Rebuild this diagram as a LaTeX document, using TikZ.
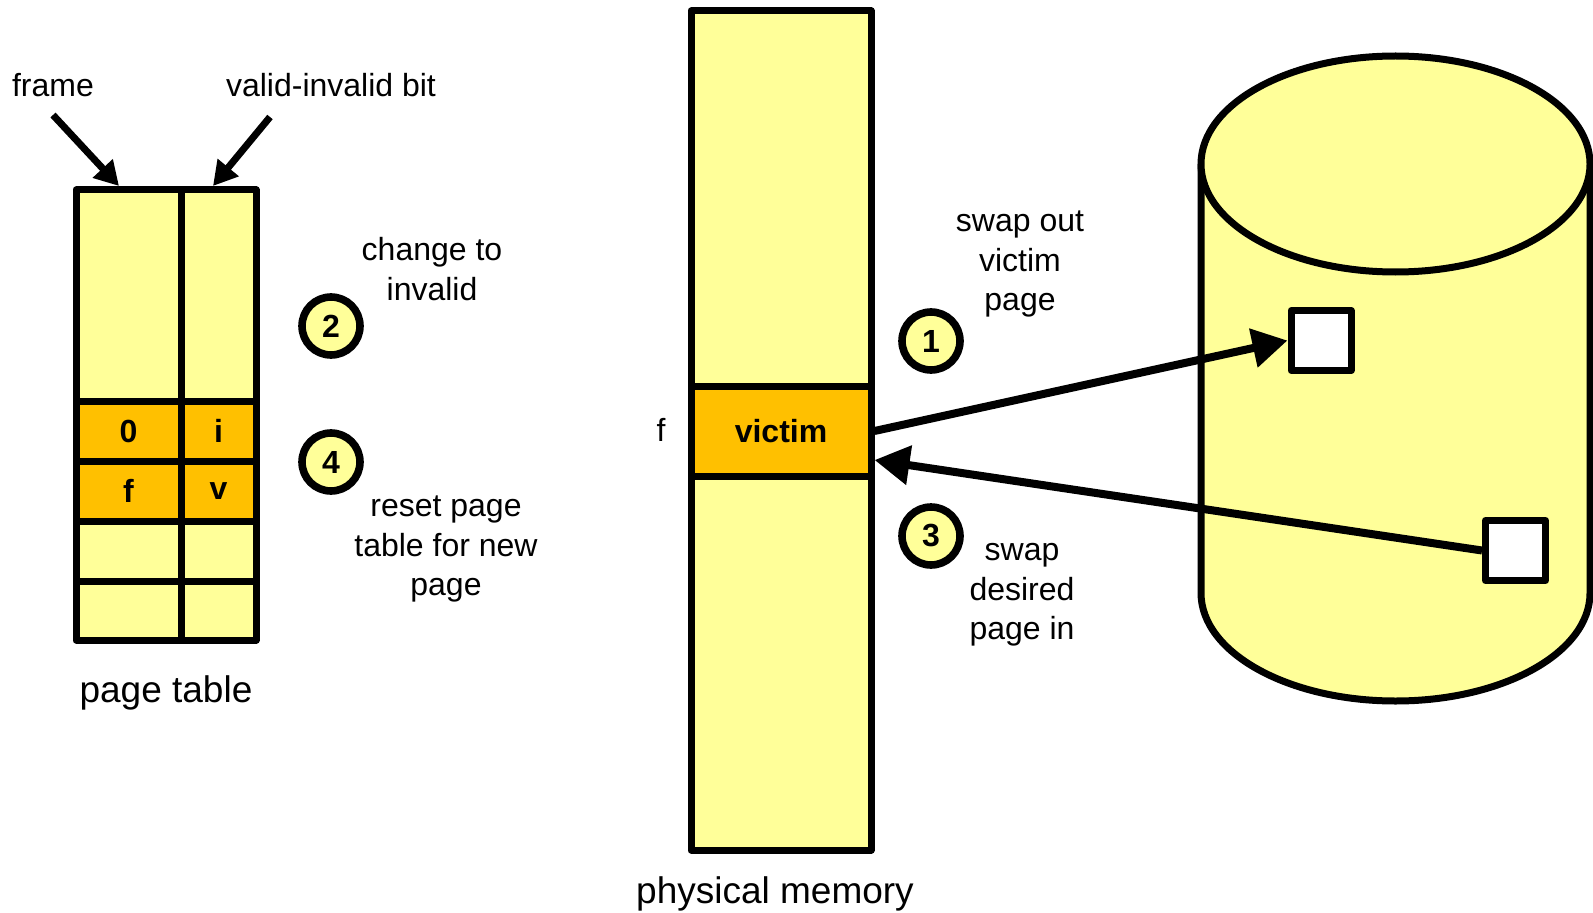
\documentclass[tikz,border=0pt]{standalone}
\usepackage{fontspec}
\setmainfont{Liberation Sans}
\usepackage{tikz}
\usetikzlibrary{arrows.meta,positioning}

\definecolor{paleyellow}{RGB}{255,255,153}
\definecolor{victimorange}{RGB}{255,192,0}

\newcommand{\lblfont}{\fontsize{16}{19.8}\selectfont}
\newcommand{\bigfont}{\fontsize{18.5}{22}\selectfont}

\tikzset{
	box/.style={draw, line width=3.5pt, line join=round},
	stepnum/.style={circle, draw, line width=3.8pt, fill=paleyellow, minimum size=29pt, inner sep=0pt, font=\lblfont\bfseries},
	cell/.style={font=\lblfont\bfseries},
	swaparrow/.style={line width=4pt, -{Triangle[length=17.5pt,width=19pt]}},
	bitarrow/.style={line width=3.5pt, -{Triangle[length=12pt,width=13pt]}}
}

\begin{document}
\begin{tikzpicture}[x=50pt, y=50pt, font=\lblfont]
	
	\useasboundingbox (0,0) rectangle (15.93,9.12);
	
	% page table
	\fill[paleyellow] (0.76,2.72) rectangle (2.56,7.22);
	\fill[victimorange] (0.76,3.91) rectangle (2.56,5.11);
	\foreach \y in {5.11,4.51,3.91,3.31}
		\draw[box] (0.76,\y) -- (2.56,\y);
	\draw[box] (1.81,2.72) -- (1.81,7.22);
	\draw[box] (0.76,2.72) rectangle (2.56,7.22);
	
	\node[cell] (oldframe) at (1.285,4.81) {0};
	\node[cell] (oldbit) at (2.185,4.81) {i};
	\node[cell] (newframe) at (1.285,4.21) {f};
	\node[cell] (newbit) at (2.185,4.21) {v};
	
	\node (frame) at (0.53,8.27) {frame};
	\node (vibit) at (3.31,8.27) {valid-invalid bit};
	\node[font=\bigfont] (ptlabel) at (1.66,2.19) {page table};
	
	\coordinate (frametail) at (0.53,7.97);
	\coordinate (frametip) at (1.19,7.26);
	\coordinate (bittail) at (2.70,7.95);
	\coordinate (bittip) at (2.13,7.26);
	\draw[bitarrow] (frametail) -- (frametip);
	\draw[bitarrow] (bittail) -- (bittip);
	
	\node[stepnum] (s2) at (3.31,5.86) {2};
	\node[stepnum] (s4) at (3.31,4.50) {4};
	\node[align=center] (invtxt) at (4.32,6.43) {change to\\invalid};
	\node[align=center] (resettxt) at (4.46,3.63) {reset page\\table for new\\page};
	
	% physical memory
	\draw[box, fill=paleyellow] (6.91,0.62) rectangle (8.71,9.01);
	\node[box, fill=victimorange, minimum width=90pt, minimum height=45pt, inner sep=0pt, font=\lblfont\bfseries] (victim) at (7.81,4.81) {victim};
	\node (fmark) at (6.61,4.82) {f};
	\node[font=\bigfont] (memlabel) at (7.75,0.18) {physical memory};
	
	% backing store
	\draw[box, fill=paleyellow] (12.01,7.48) -- (12.01,3.19) arc[start angle=180, end angle=360, x radius=1.945, y radius=1.08] -- (15.90,7.48);
	\draw[box, fill=paleyellow] (13.955,7.48) ellipse [x radius=1.945, y radius=1.08];
	
	\node[box, fill=white, minimum size=30pt, inner sep=0pt] (outpage) at (13.21,5.715) {};
	\node[box, fill=white, minimum size=30pt, inner sep=0pt] (inpage) at (15.155,3.615) {};
	
	\coordinate (swapin) at ([yshift=-14.5pt]victim.east);
	\draw[swaparrow] (victim.east) -- (outpage.west);
	\draw[swaparrow] (inpage.west) -- (swapin);
	
	\node[stepnum] (s1) at (9.31,5.71) {1};
	\node[stepnum] (s3) at (9.31,3.76) {3};
	\node[align=center] (outtxt) at (10.20,6.48) {swap out\\victim\\page};
	\node[align=center] (intxt) at (10.22,3.17) {swap\\desired\\page in};
	
\end{tikzpicture}
\end{document}
